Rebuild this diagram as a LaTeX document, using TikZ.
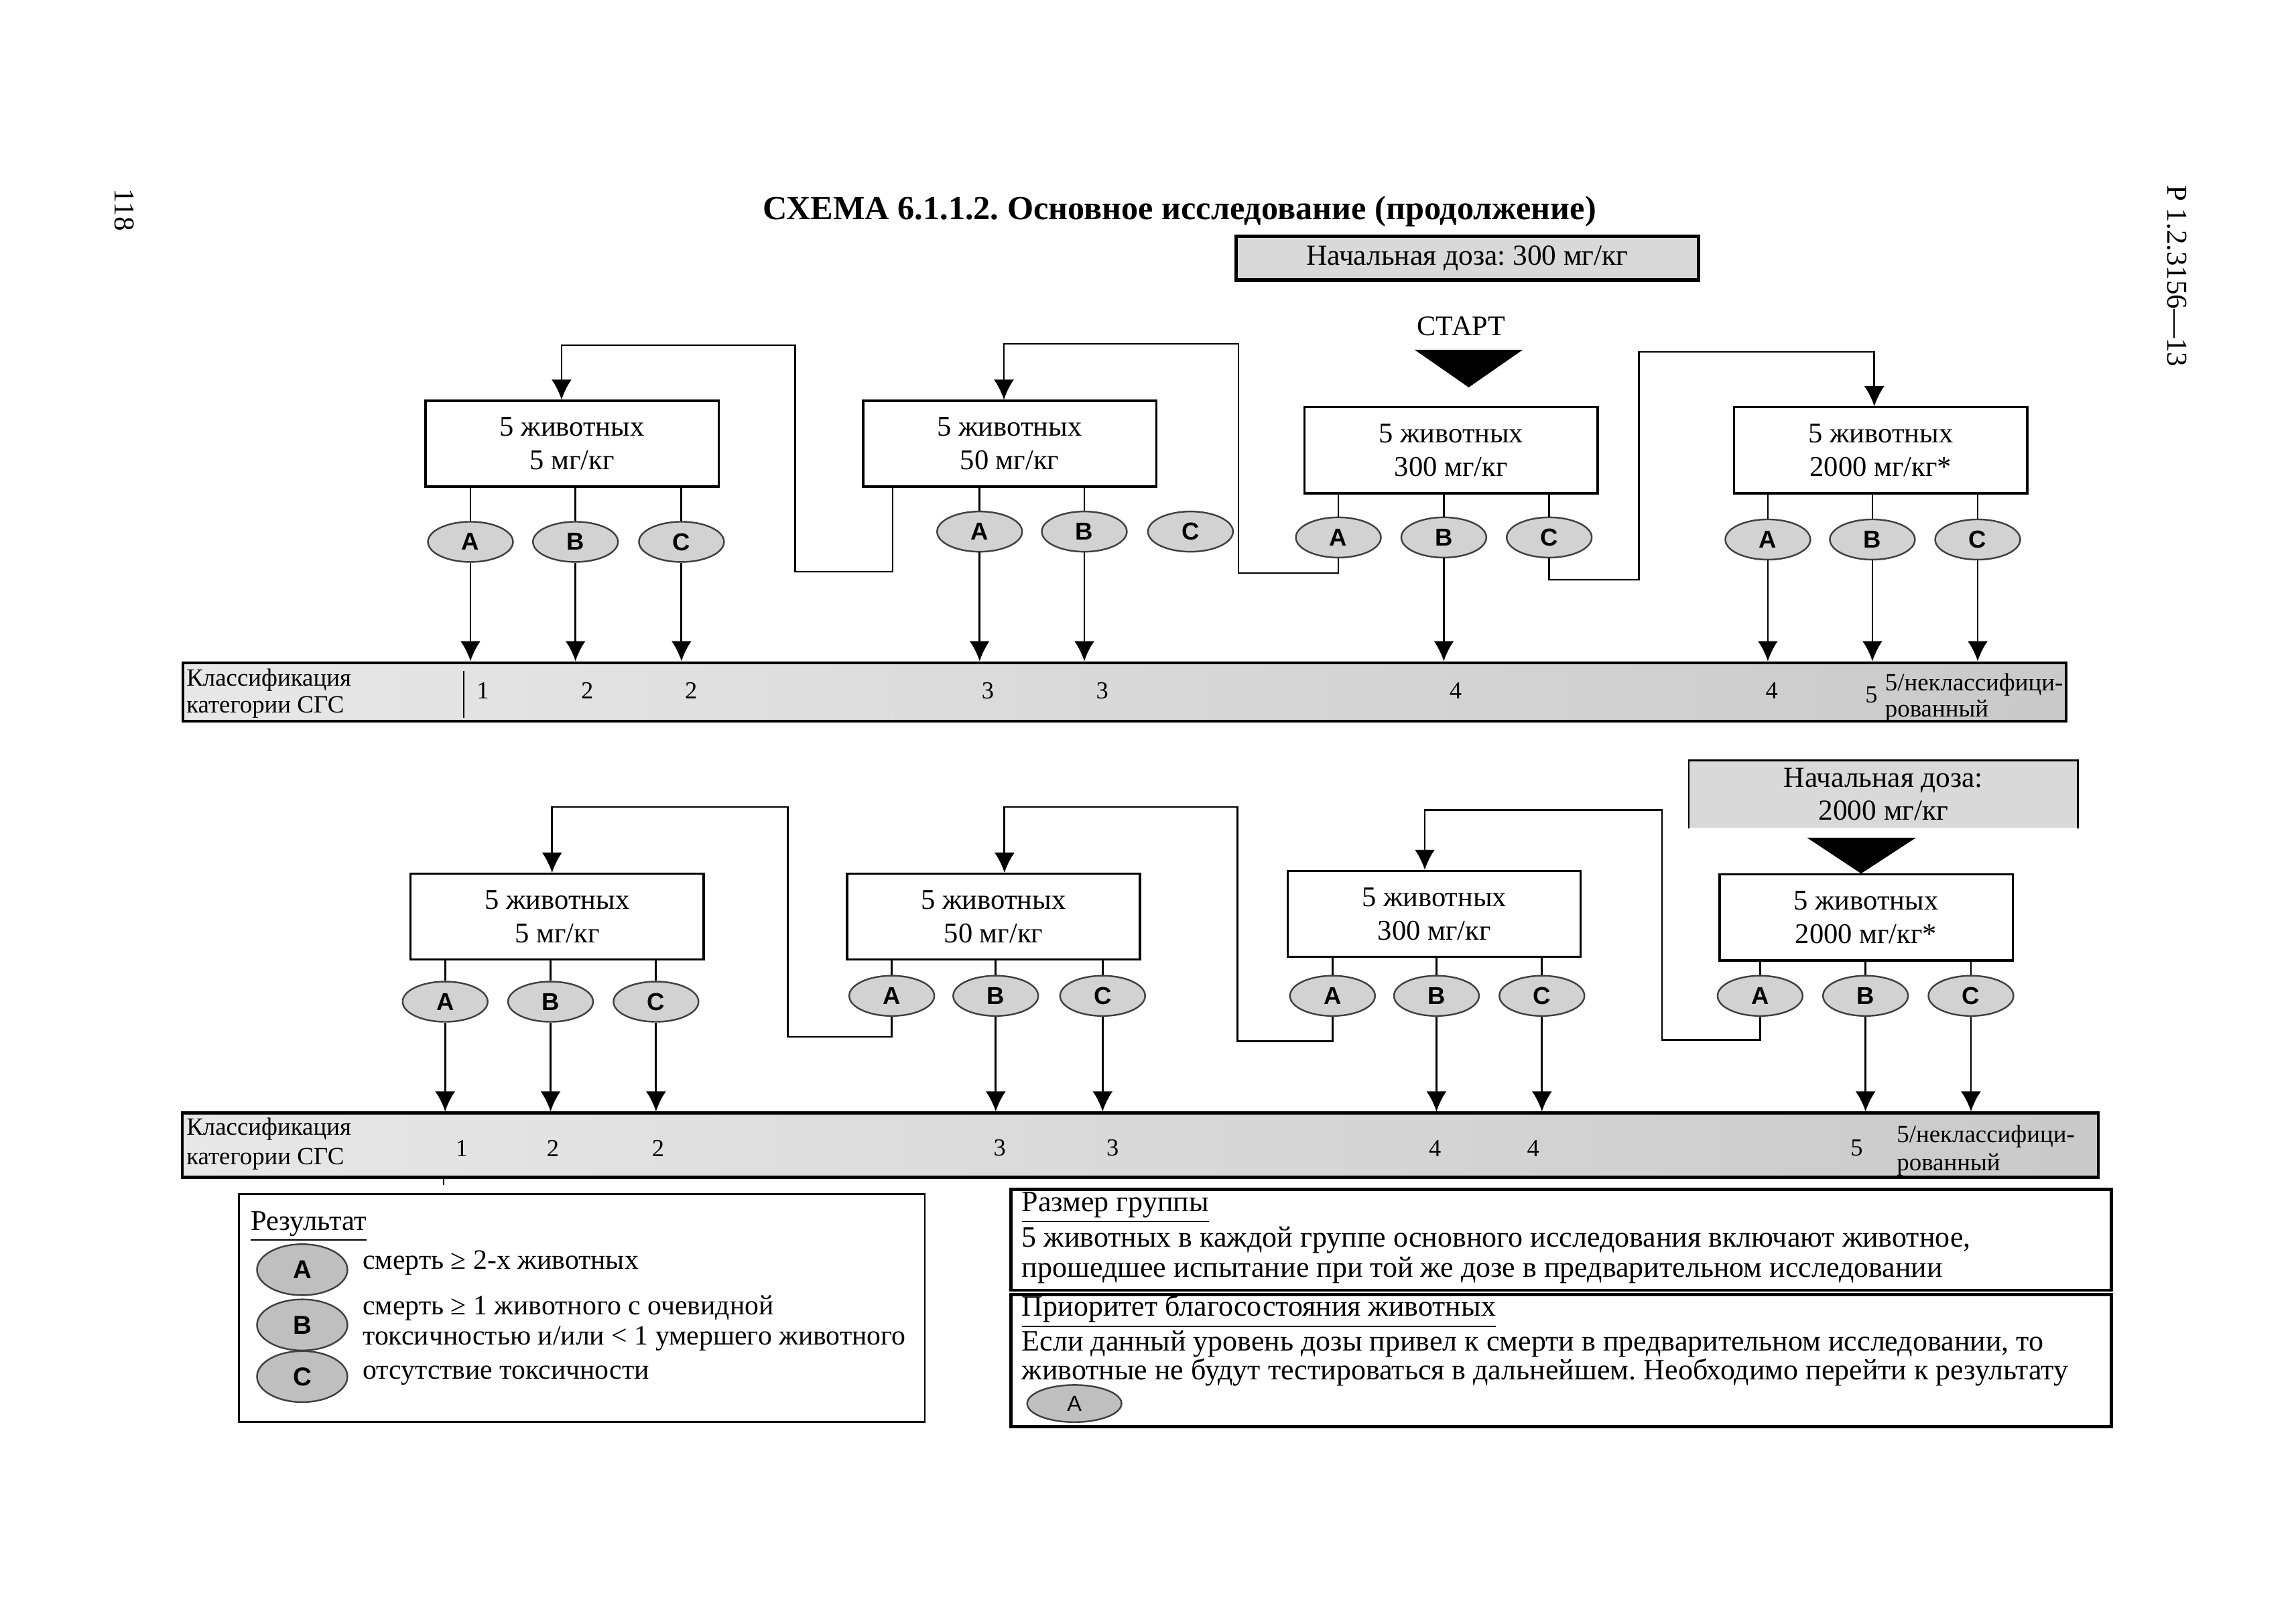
\documentclass[tikz,border=0pt]{standalone}
\usepackage{fontspec}
\setmainfont{Liberation Serif}
\setsansfont{Liberation Sans}
\usetikzlibrary{arrows.meta,positioning,shapes.geometric}
\frenchspacing

\begin{document}
\begin{tikzpicture}[
            x=0.18941mm,y=-0.18941mm,
            dose/.style={draw,line width=0.8pt,fill=white,minimum width=37.9mm,minimum height=11.1mm,inner sep=0pt,align=center,font=\fontsize{10.5}{12.4}\selectfont},
            res/.style={ellipse,draw=black!75,line width=0.6pt,fill=resx,minimum width=11mm,minimum height=5.2mm,inner sep=0pt,font=\sffamily\bfseries\fontsize{9}{9}\selectfont},
            bigres/.style={res,fill=legx,minimum width=11.7mm,minimum height=6.6mm,font=\sffamily\bfseries\fontsize{9.5}{9.5}\selectfont},
            link/.style={line width=0.7pt},
            arr/.style={line width=0.7pt,-{Latex[length=2.6mm,width=2.6mm]}},
            bar/.style={draw,line width=1.1pt,left color=gray!18,right color=gray!42,inner sep=0pt},
            num/.style={inner sep=0pt,font=\fontsize{9}{9}\selectfont},
            txt/.style={anchor=west,inner sep=0pt,align=left,font=\fontsize{10.85}{11}\selectfont}
        ]
            \colorlet{resx}{gray!35}
            \colorlet{legx}{gray!50}
            \colorlet{dosx}{gray!30}

            \path [use as bounding box,fill=white] (0,0) rectangle (1568,1108.5);

            % page marks and title
            \node (pg)  [rotate=-90,font=\fontsize{10.6}{10.6}\selectfont] at (85,143.4)    {118};
            \node (doc) [rotate=-90,font=\fontsize{10.6}{10.6}\selectfont] at (1486.7,188.4) {Р 1.2.3156—13};
            \node (title) [font=\bfseries\fontsize{12.4}{12.4}\selectfont] at (805.6,144.2)
                {СХЕМА 6.1.1.2. Основное исследование (продолжение)};

            \node (st1) [draw,line width=1.3pt,fill=dosx,minimum width=59.8mm,minimum height=5.7mm,inner sep=0pt,font=\fontsize{10.7}{10.7}\selectfont] at (1002,176.3) {Начальная доза: 300 мг/кг};
            \node (go) [font=\fontsize{10.4}{10.4}\selectfont] at (998,222.7) {СТАРТ};
            \fill (966,238.8) -- (1040,238.8) -- (1003,264.5) -- cycle;

            % upper row
            \node (k1) [dose] at (390.7,303)   {5 животных\\5 мг/кг};
            \node (k2) [dose] at (689.5,303)   {5 животных\\50 мг/кг};
            \node (k3) [dose] at (991,307.5)   {5 животных\\300 мг/кг};
            \node (k4) [dose] at (1284.4,307.5) {5 животных\\2000 мг/кг*};

            \node (A1) [res] at (321.3,370)  {A};
            \node (B1) [res] at (393,370)    {B};
            \node (C1) [res] at (465.4,370)  {C};
            \node (A2) [res] at (669,363)    {A};
            \node (B2) [res] at (740.5,363)  {B};
            \node (C2) [res] at (813,363)    {C};
            \node (A3) [res] at (914,367)    {A};
            \node (B3) [res] at (986,367)    {B};
            \node (C3) [res] at (1058,367)   {C};
            \node (A4) [res] at (1207.3,368.4) {A};
            \node (B4) [res] at (1278.7,368.4) {B};
            \node (C4) [res] at (1350.6,368.4) {C};

            \foreach \e/\k in {A1/k1,B1/k1,C1/k1,A2/k2,B2/k2,A3/k3,B3/k3,C3/k3,A4/k4,B4/k4,C4/k4}
                \draw [link] (\e |- \k.south) -- (\e);

            \node (bar1) [bar,minimum width=243.6mm,minimum height=7.56mm] at (768,472.5) {};
            \foreach \e in {A1,B1,C1,A2,B2,B3,A4,B4,C4}
                \draw [arr] (\e) -- (\e |- bar1.north);

            \coordinate (q1) at (609.6,390.4);
            \coordinate (r1) at (543.2,390.4);
            \coordinate (s1) at (383.5,235.7);
            \draw [arr] (k2.south -| q1) -- (q1) -- (r1) |- (s1) -- (k1.north -| s1);
            \coordinate (r2) at (845.8,391.3);
            \coordinate (s2) at (685.6,234.8);
            \draw [arr] (A3) |- (r2) |- (s2) -- (k2.north -| s2);
            \coordinate (r3) at (1119.3,395.9);
            \coordinate (s3) at (1280,240.3);
            \draw [arr] (C3) |- (r3) |- (s3) -- (k4.north -| s3);

            \node (h1) [txt,font=\fontsize{9.1}{10}\selectfont] at (127,473.5) {Классификация\\категории СГС};
            \draw [thin] (316.7,458) -- (316.7,490);
            \foreach \x/\n [count=\i] in {329.7/1,401/2,472/2,674.6/3,752.8/3,994/4,1210/4}
                \node (m\i) [num] at (\x,471.5) {\n};
            \node (m8) [num] at (1278,474.5) {5};
            \node (w1) [txt,font=\fontsize{9.1}{9.7}\selectfont] at (1287,476.5) {5/неклассифици-\\рованный};

            % lower row
            \node (st2) [fill=dosx,minimum width=50.2mm,minimum height=8.66mm,inner sep=0pt,align=center,font=\fontsize{10.7}{11.9}\selectfont] at (1286.25,542.35) {Начальная доза:\\2000 мг/кг};
            \draw [line width=0.7pt] (st2.south west) |- (st2.north east) -- (st2.south east);
            \fill (1234,572) -- (1308.5,572) -- (1271,596.5) -- cycle;

            \node (k5) [dose] at (380.5,626)   {5 животных\\5 мг/кг};
            \node (k6) [dose] at (678.5,626)   {5 животных\\50 мг/кг};
            \node (k7) [dose] at (979.5,624)   {5 животных\\300 мг/кг};
            \node (k8) [dose] at (1274.4,626.5) {5 животных\\2000 мг/кг*};

            \node (A5) [res] at (304,684)  {A};
            \node (B5) [res] at (376,684)  {B};
            \node (C5) [res] at (448,684)  {C};
            \node (A6) [res] at (609,680)  {A};
            \node (B6) [res] at (680,680)  {B};
            \node (C6) [res] at (753,680)  {C};
            \node (A7) [res] at (910,680)  {A};
            \node (B7) [res] at (981,680)  {B};
            \node (C7) [res] at (1053,680) {C};
            \node (A8) [res] at (1202,680) {A};
            \node (B8) [res] at (1274,680) {B};
            \node (C8) [res] at (1346,680) {C};

            \foreach \e/\k in {A5/k5,B5/k5,C5/k5,A6/k6,B6/k6,C6/k6,A7/k7,B7/k7,C7/k7,A8/k8,B8/k8,C8/k8}
                \draw [link] (\e |- \k.south) -- (\e);

            \node (bar2) [bar,minimum width=247.8mm,minimum height=8.33mm] at (778.75,782) {};
            \foreach \e in {A5,B5,C5,B6,C6,B7,C7,B8,C8}
                \draw [arr] (\e) -- (\e |- bar2.north);

            \coordinate (r4) at (538,708);
            \coordinate (s4) at (377,551);
            \draw [arr] (A6) |- (r4) |- (s4) -- (k5.north -| s4);
            \coordinate (r5) at (845,711);
            \coordinate (s5) at (686,551);
            \draw [arr] (A7) |- (r5) |- (s5) -- (k6.north -| s5);
            \coordinate (r6) at (1135,710);
            \coordinate (s6) at (973,553);
            \draw [arr] (A8) |- (r6) |- (s6) -- (k7.north -| s6);

            \node (h2) [txt,font=\fontsize{9.1}{10.8}\selectfont] at (127,781) {Классификация\\категории СГС};
            \draw [thin] (303,804) -- (303,809);
            \foreach \x/\n [count=\i] in {315.3/1,377.6/2,449.4/2,682.7/3,759.8/3,980/4,1047/4,1268/5}
                \node (n\i) [num] at (\x,784) {\n};
            \node (w2) [txt,font=\fontsize{9.1}{10.3}\selectfont] at (1295,785.5) {5/неклассифици-\\рованный};

            % legend
            \node (leg) [draw,line width=0.6pt,minimum width=88.72mm,minimum height=29.47mm,inner sep=0pt] at (397.4,893.2) {};
            \node (lh) [txt,font=\fontsize{10.5}{11}\selectfont] at (171,837.5) {\underline{Результат}};
            \node (LA) [bigres] at (206.4,867)   {A};
            \node (LB) [bigres] at (206.4,904.7) {B};
            \node (LC) [bigres] at (206.4,940)   {C};
            \node (l1) [txt,font=\fontsize{10.3}{11}\selectfont] at (247.4,862.5) {смерть ≥ 2-х животных};
            \node (l2) [txt,font=\fontsize{10.3}{11}\selectfont] at (247.4,903.5) {смерть ≥ 1 животного с очевидной\\токсичностью и/или < 1 умершего животного};
            \node (l3) [txt,font=\fontsize{10.3}{11}\selectfont] at (247.4,939)   {отсутствие токсичности};

            \node (gsz)  [draw,line width=1.2pt,minimum width=142.34mm,minimum height=13.07mm,inner sep=0pt] at (1066.25,846.5) {};
            \node (prio) [draw,line width=1.2pt,minimum width=142.34mm,minimum height=17.05mm,inner sep=0pt] at (1066.25,929) {};
            \node (g1) [txt] at (697.5,824.6) {\underline{Размер группы}};
            \node (g2) [txt] at (697.5,857)   {5 животных в каждой группе основного исследования включают животное,\\прошедшее испытание при той же дозе в предварительном исследовании};
            \node (g3) [txt] at (697.5,895.5) {\underline{Приоритет благосостояния животных}};
            \node (g4) [txt,font=\fontsize{10.85}{10.6}\selectfont] at (697.5,927.5) {Если данный уровень дозы привел к смерти в предварительном исследовании, то\\животные не будут тестироваться в дальнейшем. Необходимо перейти к результату};
            \node (gA) [res,fill=legx,minimum width=12.2mm,minimum height=4.8mm,font=\sffamily\fontsize{8}{8}\selectfont] at (733.7,958.4) {A};
        \end{tikzpicture}
\end{document}
